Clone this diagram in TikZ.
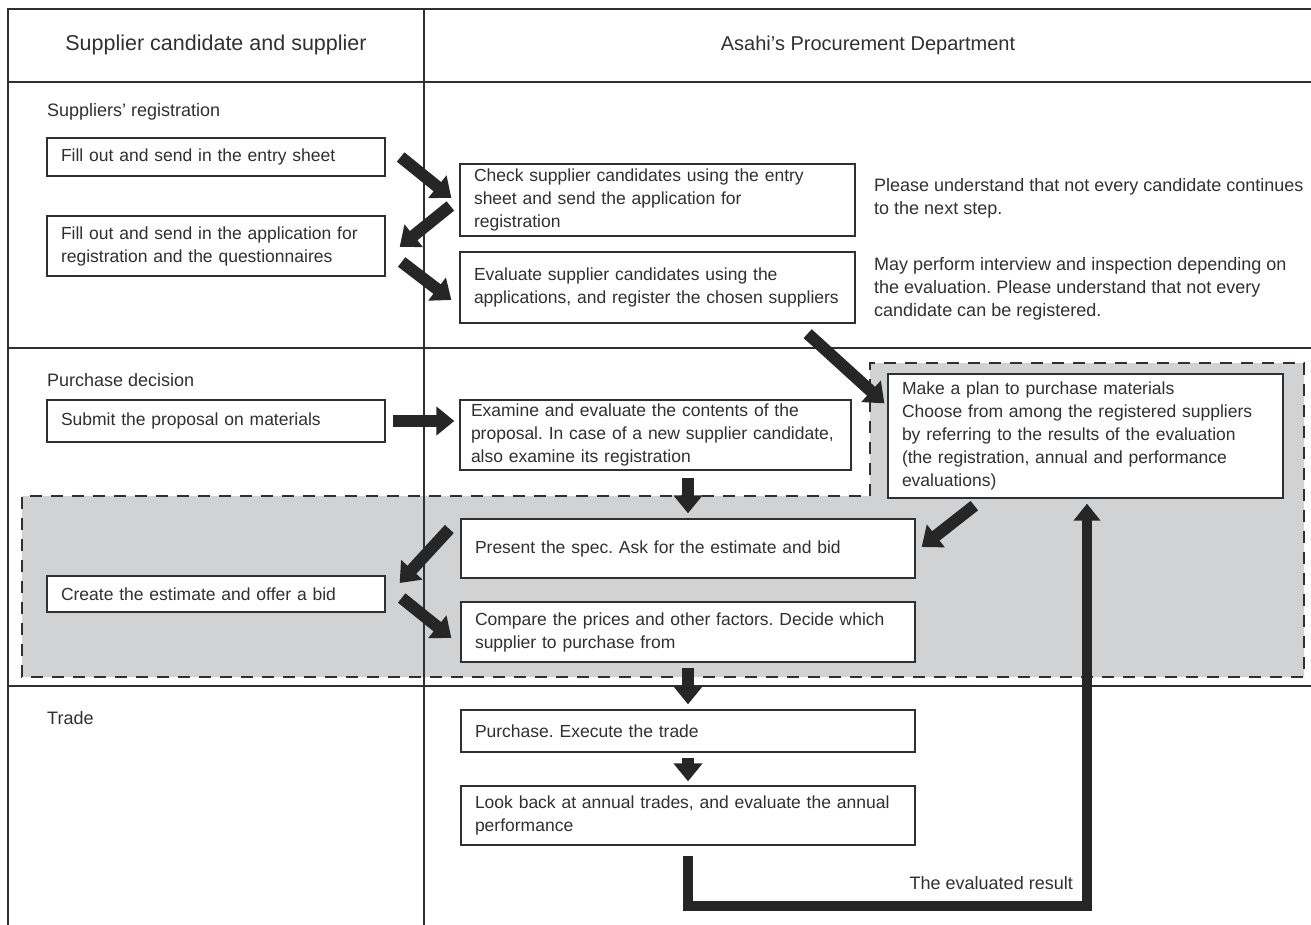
\documentclass[tikz,border=0pt]{standalone}
\usepackage{fontspec}
\setmainfont{Liberation Sans}
\usetikzlibrary{arrows.meta,calc}

\definecolor{ink}{HTML}{303030}
\definecolor{greyfill}{HTML}{D1D2D4}
\frenchspacing

\tikzset{
  lbl/.style={text=ink, font=\fontsize{18}{23}\selectfont, inner sep=0pt, align=left},
  box/.style={draw=ink, fill=white, line width=1.3pt, text=ink,
    font=\fontsize{17.5}{23}\selectfont, align=left,
    inner xsep=14pt, inner ysep=0pt, text width=#1},
  blk/.style={draw=black!85, line width=12pt, -{Triangle[length=18pt,width=28pt]}},
  fbk/.style={draw=black!85, line width=10pt, line join=miter,
    -{Triangle[length=17pt,width=26pt]}},
  rule/.style={draw=ink, line width=1.3pt},
}

\begin{document}
\begin{tikzpicture}[x=1pt,y=-1pt]
    \useasboundingbox (0,0) rectangle (1311,925);

    \fill[greyfill] (870,363) -- (1304,363) -- (1304,677) -- (22,677) -- (22,496) -- (870,496) -- cycle;

    \draw[rule] (1311,9) -- (8,9) -- (8,925);
    \draw[rule] (424,9) -- (424,925);
    \foreach \y in {82,348,686}
        \draw[rule] (8,\y) -- (1311,\y);
    \draw[ink, line width=1.5pt, dash pattern=on 12pt off 9pt]
        (870,496) -- (870,363) -- (1304,363) -- (1304,677) -- (22,677) -- (22,496) -- cycle;

    \node[lbl, font=\fontsize{21.5}{24}\selectfont] (hsup) at (216,45) {Supplier candidate and supplier};
    \node[lbl, font=\fontsize{20}{24}\selectfont] (hasa) at (868,45) {Asahi’s Procurement Department};

    \node[lbl, anchor=west] (sreg) at (47,112) {Suppliers’ registration};
    \node[lbl, anchor=west] (spur) at (47,380) {Purchase decision};
    \node[lbl, anchor=west] (strd) at (47,718) {Trade};

    \node[box=310, minimum height=38pt] (entry) at (216,157) {Fill out and send in the entry sheet};
    \node[box=310, minimum height=60pt] (appl) at (216,246) {Fill out and send in the application for\\registration and the questionnaires};
    \node[box=367, minimum height=72pt] (check) at (657.5,200) {Check supplier candidates using the entry\\sheet and send the application for\\registration};
    \node[box=367, minimum height=71pt] (evalu) at (657.5,287.5) {Evaluate supplier candidates using the\\applications, and register the chosen suppliers};

    \node[lbl, anchor=west] (note1) at (874,198.5) {Please understand that not every candidate continues\\to the next step.};
    \node[lbl, anchor=west] (note2) at (874,289) {May perform interview and inspection depending on\\the evaluation. Please understand that not every\\candidate can be registered.};

    \node[box=369, inner xsep=11pt, minimum height=70pt] (exam) at (655.5,435) {Examine and evaluate the contents of the\\proposal. In case of a new supplier candidate,\\also examine its registration};
    \node[box=310, minimum height=42pt] (prop) at (216,421) {Submit the proposal on materials};
    \node[box=367, minimum height=124pt] (plan) at (1085.5,436) {Make a plan to purchase materials\\Choose from among the registered suppliers\\by referring to the results of the evaluation\\(the registration, annual and performance\\evaluations)};

    \node[box=426, minimum height=59pt] (spec) at (688,548.5) {Present the spec. Ask for the estimate and bid};
    \node[box=310, minimum height=36pt] (bid) at (216,594) {Create the estimate and offer a bid};
    \node[box=426, minimum height=60pt] (comp) at (688,632) {Compare the prices and other factors. Decide which\\supplier to purchase from};

    \node[box=426, minimum height=42pt] (buy) at (688,731) {Purchase. Execute the trade};
    \node[box=426, minimum height=59pt] (review) at (688,815.5) {Look back at annual trades, and evaluate the annual\\performance};

    \draw[blk] ($(entry.east)+(15,0)$) -- ($(check.west)+(-8,-2)$);
    \draw[blk] ($(check.west)+(-9,6)$) -- ($(appl.east)+(14,1)$);
    \draw[blk] ($(appl.east)+(16,16)$) -- ($(evalu.west)+(-8,12.5)$);
    \draw[blk] ($(evalu.south east)+(-48,10)$) -- ($(plan.north west)+(-3,30)$);
    \draw[blk] ($(prop.east)+(7,0)$) -- ($(prop.east -| exam.west)+(-5,0)$);
    \draw[blk] ($(exam.south -| spec.north)+(0,7)$) -- ($(spec.north)+(0,-5)$);
    \draw[blk] ($(plan.south west)+(87,7)$) -- ($(spec.east)+(6,-1.5)$);
    \draw[blk] ($(spec.west)+(-11,-19.5)$) -- ($(bid.east)+(14,-11)$);
    \draw[blk] ($(bid.east)+(16,4)$) -- ($(comp.west)+(-9,6)$);
    \draw[blk] ($(comp.south)+(0,5)$) -- ($(buy.north)+(0,-5)$);
    \draw[blk] ($(buy.south)+(0,5)$) -- ($(review.north)+(0,-4)$);

    \draw[fbk] ($(review.south)+(0,10)$) -- ++(0,50) -| ($(plan.south)+(1.5,5)$);
    \node[lbl, anchor=base east] (evres) at (1073,889) {The evaluated result};
\end{tikzpicture}
\end{document}
